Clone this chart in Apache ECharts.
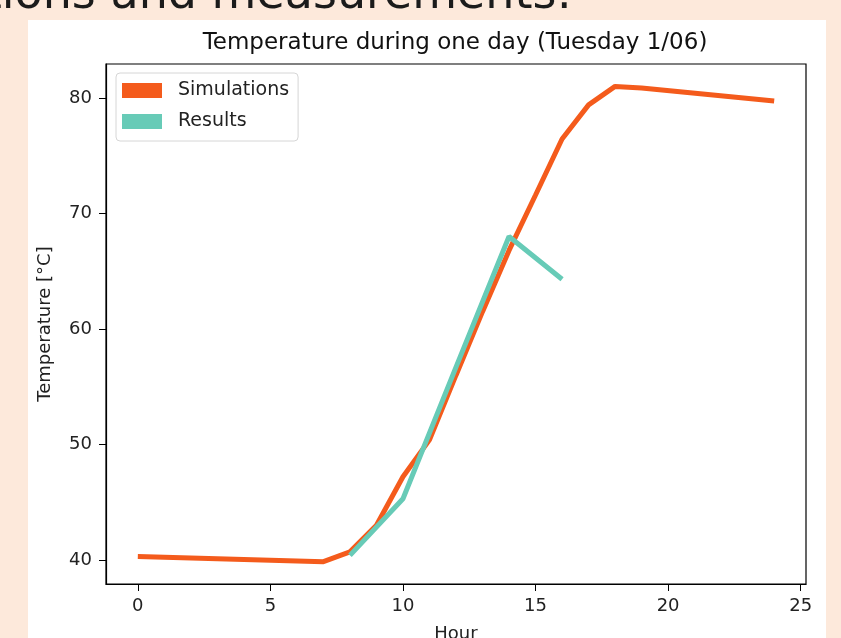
<!DOCTYPE html>
<html>
<head>
<meta charset="utf-8">
<script src="https://cdn.jsdelivr.net/npm/echarts@6/dist/echarts.min.js"></script>
<style>
  html, body { margin: 0; padding: 0; background: #fde9db; }
  #main { width: 841px; height: 638px; }
</style>
</head>
<body>
<div id="main"></div>
<script>
// hours and temperatures
var simHours = [0, 7, 8, 9, 10, 11, 12, 13, 14, 15, 16, 17, 18, 19, 24];
var simTemps = [40.3, 39.85, 40.7, 43.0, 47.2, 50.4, 56.0, 61.5, 66.8, 71.6, 76.45, 79.4, 81.0, 80.87, 79.74];
var resHours = [8, 10, 12, 14, 16];
var resTemps = [40.4, 45.3, 56.7, 68.0, 64.3];
var xTicks = [0, 5, 10, 15, 20, 25];
var yTicks = [40, 50, 60, 70, 80];

function pairs(xs, ys) {
  return xs.map(function (x, i) { return [x, ys[i]]; });
}

var chart = echarts.init(document.getElementById('main'));
var font = 'DejaVu Sans';

var option = {
  backgroundColor: '#fde9db',
  animation: false,
  graphic: [
    {
      type: 'text', z: -20,
      style: {
        x: 572, y: 19, text: 'Comparison of simulations and measurements:',
        font: '46px "DejaVu Sans"', fill: '#1b1b1b',
        align: 'right', verticalAlign: 'bottom'
      }
    },
    {
      type: 'rect', z: -10,
      shape: { x: 28, y: 20, width: 798, height: 640 },
      style: { fill: '#ffffff' }
    },
    {
      type: 'text', z: 5,
      style: {
        x: 455, y: 43, text: 'Temperature during one day (Tuesday 1/06)',
        font: '23px "DejaVu Sans"', fill: '#111',
        align: 'center', verticalAlign: 'middle'
      }
    }
  ],
  legend: {
    orient: 'vertical',
    left: 116, top: 73,
    icon: 'rect',
    itemWidth: 40, itemHeight: 15,
    itemGap: 12,
    padding: [8, 9, 10, 6],
    backgroundColor: '#fff',
    borderColor: '#d6d6d6', borderWidth: 1, borderRadius: 4,
    textStyle: { fontFamily: font, fontSize: 19, color: '#222', padding: [0, 0, 0, 11] },
    data: ['Simulations', 'Results']
  },
  grid: {
    left: 106, right: 35, top: 64, bottom: 54,
    outerBoundsMode: 'none',
    containLabel: false,
    show: true, borderColor: '#000', borderWidth: 1.2,
    backgroundColor: 'transparent'
  },
  xAxis: {
    type: 'value', min: -1.2, max: 25.2,
    name: 'Hour', nameLocation: 'middle', nameGap: 41,
    nameTextStyle: { fontFamily: font, fontSize: 18, color: '#222' },
    axisLine: { show: true, onZero: false, lineStyle: { color: '#000', width: 1.2 } },
    axisTick: { show: true, length: 7, customValues: xTicks, lineStyle: { color: '#000' } },
    axisLabel: { customValues: xTicks, margin: 13, fontFamily: font, fontSize: 18, color: '#222' },
    splitLine: { show: false }
  },
  yAxis: {
    type: 'value', min: 37.92, max: 82.94,
    name: 'Temperature [°C]', nameLocation: 'middle', nameGap: 52,
    nameTextStyle: { fontFamily: font, fontSize: 18, color: '#222' },
    axisLine: { show: true, onZero: false, lineStyle: { color: '#000', width: 1.2 } },
    axisTick: { show: true, length: 7, customValues: yTicks, lineStyle: { color: '#000' } },
    axisLabel: { customValues: yTicks, margin: 14, fontFamily: font, fontSize: 18, color: '#222' },
    splitLine: { show: false }
  },
  series: [
    {
      name: 'Simulations', type: 'line', showSymbol: false, symbol: 'none',
      data: pairs(simHours, simTemps),
      itemStyle: { color: '#f45b1c' },
      lineStyle: { color: '#f45b1c', width: 5 }
    },
    {
      name: 'Results', type: 'line', showSymbol: false, symbol: 'none',
      data: pairs(resHours, resTemps),
      itemStyle: { color: '#67cbb7' },
      lineStyle: { color: '#67cbb7', width: 5 }
    }
  ]
};

chart.setOption(option);
</script>
</body>
</html>
